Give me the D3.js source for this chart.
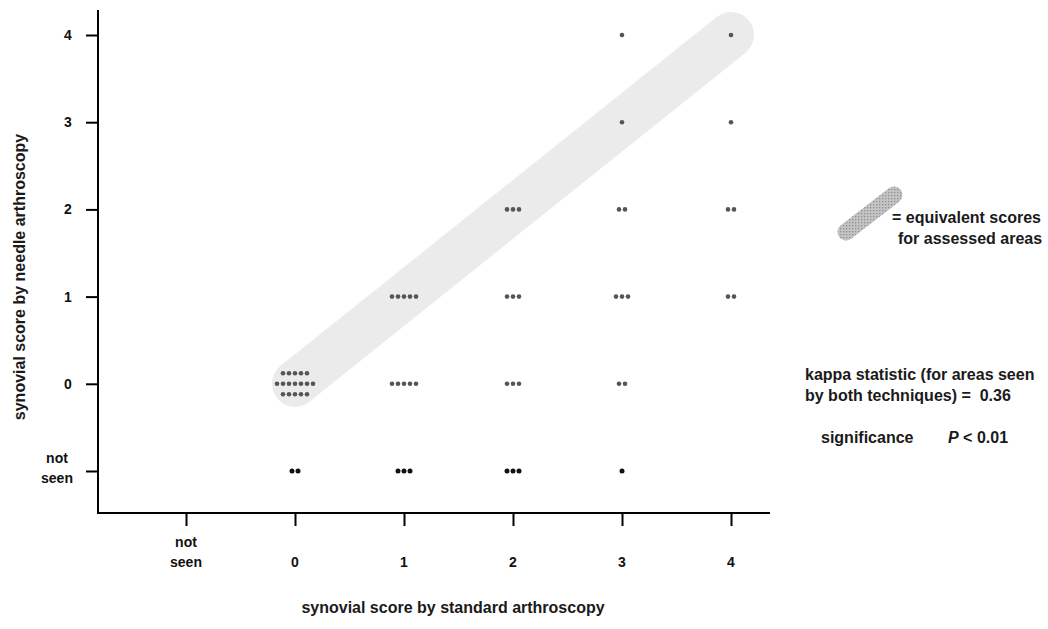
<!DOCTYPE html>
<html><head><meta charset="utf-8">
<script src="https://cdn.jsdelivr.net/npm/d3@7"></script>
<style>
html,body{margin:0;padding:0;background:#fff;}
svg{display:block;font-family:"Liberation Sans",Arial,Helvetica,sans-serif;}
</style></head>
<body>
<svg id="chart" width="1048" height="629"></svg>
<script>
// ---- data ----
const xCategories = ["not seen", "0", "1", "2", "3", "4"];
const yCategories = ["not seen", "0", "1", "2", "3", "4"];
// number of knee areas in each cell, listed by standard score (x category order)
const countsNeedleNotSeen = [0, 2, 3, 3, 1, 0];
const countsNeedle0 = [0, 17, 5, 3, 2, 0];
const countsNeedle1 = [0, 0, 5, 3, 3, 2];
const countsNeedle2 = [0, 0, 0, 3, 2, 2];
const countsNeedle3 = [0, 0, 0, 0, 1, 1];
const countsNeedle4 = [0, 0, 0, 0, 1, 1];
const equivalenceStart = ["0", "0"];
const equivalenceEnd = ["4", "4"];
const xTitle = "synovial score by standard arthroscopy";
const yTitle = "synovial score by needle arthroscopy";
const legendText = ["= equivalent scores", "for assessed areas"];
const kappaText = ["kappa statistic (for areas seen", "by both techniques) =  0.36"];

const rows = [countsNeedleNotSeen, countsNeedle0, countsNeedle1, countsNeedle2, countsNeedle3, countsNeedle4];

// ---- layout ----
const svg = d3.select("#chart");
const defs = svg.append("defs");
const pat = defs.append("pattern").attr("id", "stipple").attr("width", 3).attr("height", 3)
  .attr("patternUnits", "userSpaceOnUse");
pat.append("rect").attr("width", 3).attr("height", 3).attr("fill", "#c4c4c4");
pat.append("rect").attr("width", 1.3).attr("height", 1.3).attr("fill", "#8f8f8f");

const x = d3.scalePoint().domain(xCategories).range([186, 731]);
const y = d3.scalePoint().domain(yCategories).range([471, 35]);
const axisX0 = 98, axisY0 = 513;

// equivalence band
svg.append("line")
  .attr("x1", x(equivalenceStart[0])).attr("y1", y(equivalenceStart[1]))
  .attr("x2", x(equivalenceEnd[0])).attr("y2", y(equivalenceEnd[1]))
  .attr("stroke", "#ebebeb").attr("stroke-width", 46).attr("stroke-linecap", "round");

// dots
const dotSpacing = 6, rowSpacing = 10.5;
const dots = [];
rows.forEach((counts, yi) => {
  counts.forEach((n, xi) => {
    if (!n) return;
    let lines;
    if (n <= 7) lines = [n];
    else { const top = Math.ceil((n - 7) / 2); lines = [top, 7, n - 7 - top]; }
    lines.forEach((k, li) => {
      const dy = (li - (lines.length - 1) / 2) * rowSpacing;
      for (let i = 0; i < k; i++) {
        dots.push({
          cx: x(xCategories[xi]) + (i - (k - 1) / 2) * dotSpacing,
          cy: y(yCategories[yi]) + dy,
          notSeen: yi === 0
        });
      }
    });
  });
});
svg.append("g").selectAll("circle").data(dots).join("circle")
  .attr("cx", d => d.cx).attr("cy", d => d.cy).attr("r", d => d.notSeen ? 2.5 : 2.3)
  .attr("fill", d => d.notSeen ? "#111" : "#555");

// axes
const xAxis = d3.axisBottom(x).tickSize(13).tickSizeOuter(0).tickFormat(() => "");
const gx = svg.append("g").attr("transform", `translate(0,${axisY0})`).call(xAxis);
gx.select(".domain").remove();
gx.selectAll(".tick line").attr("stroke", "#000").attr("stroke-width", 2);

const yAxis = d3.axisLeft(y).tickSize(12).tickSizeOuter(0).tickFormat(() => "");
const gy = svg.append("g").attr("transform", `translate(${axisX0},0)`).call(yAxis);
gy.select(".domain").remove();
gy.selectAll(".tick line").attr("stroke", "#000").attr("stroke-width", 2);

svg.append("line").attr("x1", axisX0).attr("x2", axisX0).attr("y1", 10).attr("y2", axisY0 + 1)
  .attr("stroke", "#000").attr("stroke-width", 2);
svg.append("line").attr("x1", axisX0 - 1).attr("x2", 770).attr("y1", axisY0).attr("y2", axisY0)
  .attr("stroke", "#000").attr("stroke-width", 2);

// tick labels
function tickLabel(g, cx, cy, label) {
  const parts = label === "not seen" ? ["not", "seen"] : [label];
  const t = g.append("text").attr("text-anchor", "middle").attr("font-size", 14)
    .attr("font-weight", "bold").attr("fill", "#111");
  parts.forEach((p, i) => {
    t.append("tspan").attr("x", cx).attr("y", cy + (i - (parts.length - 1) / 2) * 19.5 + 5).text(p);
  });
}
const labels = svg.append("g");
xCategories.forEach(c => {
  if (c === "not seen") tickLabel(labels, x(c), 552, c);
  else tickLabel(labels, x(c), 562, c);
});
yCategories.forEach(c => {
  if (c === "not seen") tickLabel(labels, 57, y(c) - 3, c);
  else tickLabel(labels, 68, y(c), c);
});

// axis titles
svg.append("text").attr("x", 453).attr("y", 613).attr("text-anchor", "middle")
  .attr("font-size", 16).attr("font-weight", "bold").attr("fill", "#1a1a1a").text(xTitle);
svg.append("text").attr("transform", "translate(25,277) rotate(-90)").attr("text-anchor", "middle")
  .attr("font-size", 16).attr("font-weight", "bold").attr("fill", "#1a1a1a").text(yTitle);

// legend swatch
svg.append("line").attr("x1", 846).attr("y1", 232).attr("x2", 894).attr("y2", 195)
  .attr("stroke", "url(#stipple)").attr("stroke-width", 17).attr("stroke-linecap", "round");
svg.append("text").attr("x", 892).attr("y", 223).attr("font-size", 16).attr("font-weight", "bold")
  .attr("fill", "#1a1a1a").text(legendText[0]);
svg.append("text").attr("x", 898).attr("y", 244).attr("font-size", 16).attr("font-weight", "bold")
  .attr("fill", "#1a1a1a").text(legendText[1]);

// kappa annotation
svg.append("text").attr("x", 805).attr("y", 380).attr("font-size", 16).attr("font-weight", "bold")
  .attr("fill", "#1a1a1a").text(kappaText[0]);
svg.append("text").attr("x", 805).attr("y", 401).attr("font-size", 16).attr("font-weight", "bold")
  .attr("fill", "#1a1a1a").attr("xml:space", "preserve").text(kappaText[1]);
const sig = svg.append("text").attr("x", 821).attr("y", 443).attr("font-size", 16).attr("font-weight", "bold")
  .attr("fill", "#1a1a1a");
sig.append("tspan").text("significance");
sig.append("tspan").attr("x", 948).attr("font-style", "italic").text("P");
sig.append("tspan").text(" < 0.01");
</script>
</body></html>
